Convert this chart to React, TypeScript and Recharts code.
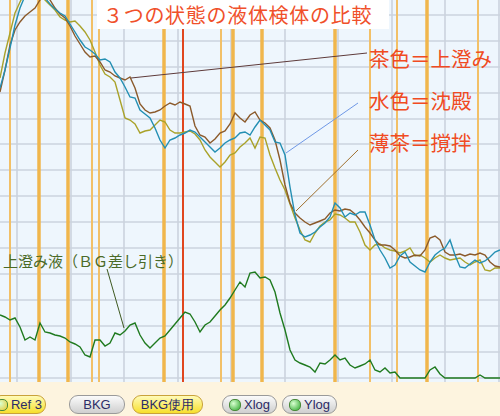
import React from "react";
import { LineChart, Line, XAxis, YAxis, ReferenceLine } from "recharts";

// channel positions shared by every trace
const CHANNELS = Array.from({ length: 101 }, (_, i) => i * 5);

// 茶色 = 上澄み
const SUPERNATANT = [
  290, 312, 337, 352, 360, 366, 370, 374, 382, 388, 382, 374, 368, 364, 356, 346, 338, 330, 325, 326,
  320, 312, 310, 306, 304, 302, 305, 294, 278, 272, 269, 270, 272, 276, 279, 277, 280, 278, 276, 256,
  247, 245, 239, 243, 249, 251, 258, 269, 264, 260, 267, 270, 262, 259, 254, 242, 222, 197, 179, 169,
  164, 160, 157, 159, 161, 163, 169, 172, 171, 173, 172, 168, 162, 155, 149, 142, 137, 137, 136, 132,
  126, 124, 125, 127, 126, 132, 144, 146, 142, 130, 127, 127, 128, 126, 128, 127, 129, 127, 120, 116,
  115,
];

// 水色 = 沈殿
const SEDIMENT = [
  294, 312, 334, 357, 374, 386, 392, 396, 392, 384, 378, 373, 369, 366, 358, 350, 342, 335, 332, 328,
  322, 323, 320, 310, 304, 295, 285, 284, 272, 268, 264, 254, 242, 234, 242, 244, 247, 249, 252, 250,
  245, 240, 235, 230, 234, 239, 242, 244, 249, 250, 247, 255, 262, 257, 252, 240, 239, 227, 195, 167,
  149, 145, 147, 150, 155, 159, 165, 179, 174, 165, 169, 167, 170, 170, 157, 142, 132, 124, 114, 117,
  126, 130, 120, 116, 112, 110, 120, 127, 131, 134, 142, 127, 115, 114, 118, 122, 119, 121, 125, 130,
  132,
];

// 薄茶 = 撹拌
const STIRRED = [
  304, 329, 349, 369, 380, 390, 394, 392, 388, 382, 377, 372, 365, 362, 360, 361, 356, 350, 342, 330,
  317, 308, 305, 300, 282, 264, 262, 258, 249, 251, 252, 257, 262, 260, 252, 249, 249, 250, 251, 248,
  242, 232, 225, 220, 215, 220, 227, 229, 235, 239, 244, 234, 245, 244, 227, 214, 202, 192, 178, 164,
  152, 142, 140, 149, 156, 160, 162, 168, 167, 164, 160, 160, 150, 137, 132, 137, 138, 134, 132, 131,
  129, 131, 134, 126, 127, 124, 120, 124, 127, 124, 122, 123, 124, 120, 117, 120, 122, 112, 111, 114,
  114,
];

// 上澄み液（BG差し引き）
const SUBTRACTED = [
  67, 65, 62, 64, 55, 42, 45, 42, 59, 50, 49, 47, 46, 44, 40, 38, 35, 27, 25, 42,
  42, 36, 39, 49, 47, 51, 57, 59, 47, 39, 34, 39, 44, 46, 52, 58, 64, 70, 68, 60,
  50, 57, 60, 66, 72, 77, 84, 92, 100, 95, 109, 110, 104, 105, 102, 90, 69, 52, 32, 22,
  19, 17, 15, 10, 19, 18, 22, 27, 22, 24, 17, 14, 16, 18, 22, 12, 10, 14, 9, 10,
  4, 4, 4, 4, 4, 4, 12, 15, 8, 4, 4, 4, 4, 4, 4, 4, 7, 4, 4, 4,
  4,
];

const GRID_Y = [367, 341, 315, 289, 263, 238, 212, 186, 160, 134, 108, 82, 56, 30, 4];
const GRID_X = [17, 71, 124, 178, 231, 285, 338, 392, 445, 499];

// peak markers: [channel, thick]
const MARKERS: Array<[number, boolean]> = [
  [10, false], [39, true], [68, true], [92, false], [99, false], [164, true], [221, false],
  [233, true], [262, true], [335, true], [370, false], [397, false], [427, true], [478, false],
];
const CURSOR = 183;

const data = CHANNELS.map((ch, i) => ({
  ch,
  supernatant: SUPERNATANT[i],
  sediment: SEDIMENT[i],
  stirred: STIRRED[i],
  subtracted: SUBTRACTED[i],
}));

const JP = '"Noto Sans CJK JP", "Noto Sans", sans-serif';

function Button({
  left,
  width,
  label,
  yellow,
  led,
}: {
  left: number;
  width: number;
  label: string;
  yellow?: boolean;
  led?: string;
}) {
  return (
    <div
      style={{
        position: "absolute",
        left,
        top: 395,
        width,
        height: 19,
        boxSizing: "border-box",
        borderRadius: 9,
        border: yellow ? "1px solid #c9a23a" : "1px solid #9a9a9a",
        background: yellow
          ? "linear-gradient(#fffbb8, #f7df2c)"
          : "linear-gradient(#fbfbfb, #cfcfcf)",
        display: "flex",
        alignItems: "center",
        justifyContent: "center",
        gap: 3,
        fontFamily: '"Liberation Sans", Arial, sans-serif',
        fontSize: 13,
        color: "#2c2c66",
      }}
    >
      {led && (
        <span
          style={{
            width: 10,
            height: 10,
            borderRadius: 5,
            background: `radial-gradient(circle at 35% 35%, #d8ffd0, ${led})`,
            border: "1px solid #4a8a3a",
          }}
        />
      )}
      {label}
    </div>
  );
}

const lineProps = {
  type: "linear" as const,
  strokeWidth: 1.4,
  dot: false,
  activeDot: false,
  isAnimationActive: false,
};

export default function App() {
  return (
    <div style={{ position: "absolute", left: 0, top: 0, width: 500, height: 416, background: "#fdf4df", overflow: "hidden" }}>
      <div style={{ position: "absolute", left: 0, top: 0, width: 500, height: 382, background: "#eef6fd" }}>
        <LineChart width={500} height={382} data={data} margin={{ top: 0, right: 0, bottom: 0, left: 0 }}>
          <XAxis dataKey="ch" type="number" domain={[0, 500]} hide />
          <YAxis type="number" domain={[0, 382]} allowDataOverflow hide />
          {GRID_Y.map((v) => (
            <ReferenceLine key={`gy${v}`} y={v} stroke="#cbd3de" strokeWidth={1.6} />
          ))}
          {GRID_X.map((v) => (
            <ReferenceLine key={`gx${v}`} x={v} stroke="#cbd3de" strokeWidth={1.6} />
          ))}
          {MARKERS.map(([ch, thick]) => (
            <ReferenceLine
              key={`m${ch}`}
              x={ch}
              stroke={thick ? "#f0b64c" : "#f2c067"}
              strokeWidth={thick ? 3.5 : 2}
            />
          ))}
          <ReferenceLine x={CURSOR} stroke="#e0461e" strokeWidth={2} />
          <Line {...lineProps} dataKey="stirred" stroke="#a9a22a" />
          <Line {...lineProps} dataKey="supernatant" stroke="#8b5a2b" />
          <Line {...lineProps} dataKey="sediment" stroke="#238fb3" />
          <Line {...lineProps} dataKey="subtracted" stroke="#1f7a1f" />
          <ReferenceLine segment={[{ x: 131, y: 304 }, { x: 367, y: 329 }]} stroke="#5e3b3b" strokeWidth={1} />
          <ReferenceLine segment={[{ x: 286, y: 229 }, { x: 358, y: 279 }]} stroke="#6f98e6" strokeWidth={1} />
          <ReferenceLine segment={[{ x: 296, y: 171 }, { x: 358, y: 232 }]} stroke="#a0702e" strokeWidth={1} />
          <ReferenceLine segment={[{ x: 107, y: 113 }, { x: 124, y: 54 }]} stroke="#3f5a22" strokeWidth={1} />
        </LineChart>
      </div>

      {/* title on its white plate */}
      <div
        style={{
          position: "absolute",
          left: 97,
          top: 0,
          width: 292,
          height: 29,
          background: "#ffffff",
          paddingLeft: 6,
          boxSizing: "border-box",
          fontFamily: JP,
          fontSize: 20,
          lineHeight: "29px",
          letterSpacing: 0.7,
          color: "#f0502a",
          whiteSpace: "nowrap",
        }}
      >
        ３つの状態の液体検体の比較
      </div>

      {[
        ["茶色＝上澄み", 48],
        ["水色＝沈殿", 90],
        ["薄茶＝撹拌", 132],
      ].map(([t, top]) => (
        <div
          key={t as string}
          style={{
            position: "absolute",
            left: 369,
            top: top as number,
            fontFamily: JP,
            fontSize: 20.5,
            lineHeight: "21px",
            color: "#f04a22",
            whiteSpace: "nowrap",
          }}
        >
          {t}
        </div>
      ))}

      <div
        style={{
          position: "absolute",
          left: 3,
          top: 253,
          fontFamily: JP,
          fontSize: 15,
          lineHeight: "16px",
          color: "#4a6a28",
          whiteSpace: "nowrap",
        }}
      >
        上澄み液（ＢＧ差し引き）
      </div>

      <Button left={-8} width={54} label="Ref 3" yellow led="#e8c830" />
      <Button left={69} width={56} label="BKG" />
      <Button left={132} width={71} label="BKG使用" yellow />
      <Button left={222} width={55} label="Xlog" led="#2ea82e" />
      <Button left={282} width={55} label="Ylog" led="#2ea82e" />
    </div>
  );
}
